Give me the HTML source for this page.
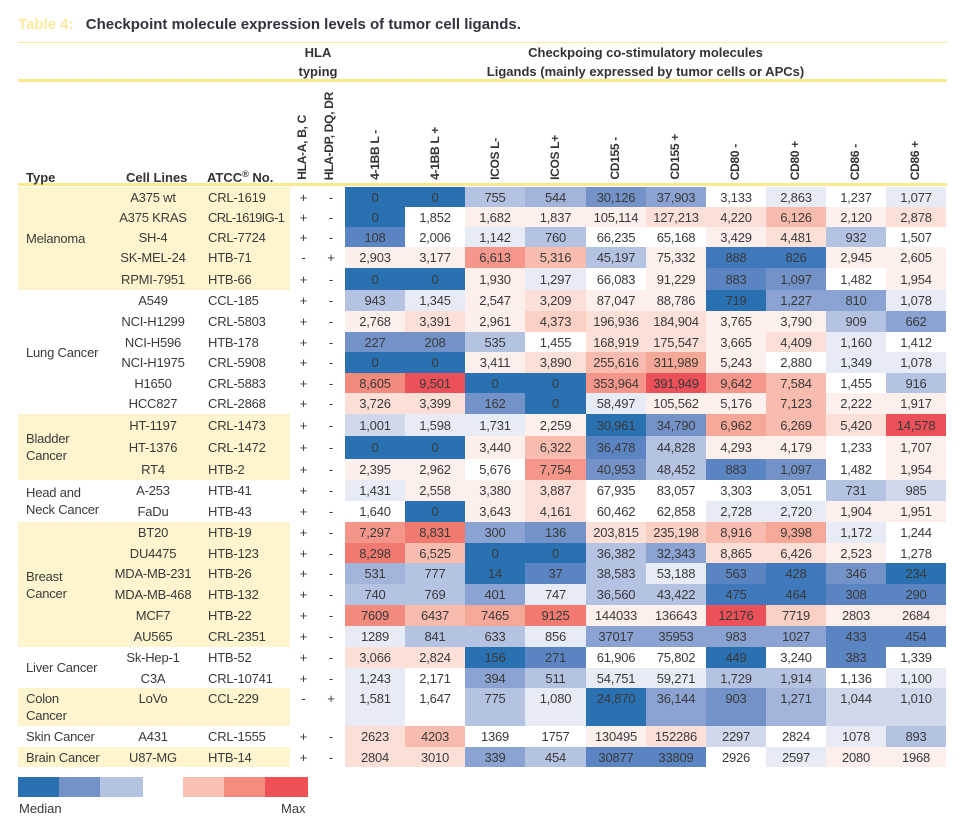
<!DOCTYPE html>
<html><head><meta charset="utf-8">
<style>
body{margin:0;width:969px;height:824px;background:#fff;position:relative;overflow:hidden;font-family:"Liberation Sans",sans-serif;color:#3a3a3a}
.abs{position:absolute}
.title{left:18px;top:16px;font-size:15px;font-weight:bold;color:#333340;white-space:nowrap}
.title span{color:#fde9a0;margin-right:8px}
.hline{left:18px;width:929px;background:#fbe89a}
.hb{font-weight:bold;font-size:13px;color:#333;white-space:nowrap}
.rot{position:absolute;bottom:644px;writing-mode:vertical-rl;transform:rotate(180deg);font-weight:bold;font-size:12px;letter-spacing:-0.3px;color:#333;white-space:nowrap;width:16px;text-align:left}
table{position:absolute;left:18px;top:187px;border-collapse:collapse;table-layout:fixed;font-size:13px}
td{padding:0;text-align:center;white-space:nowrap;overflow:hidden;letter-spacing:-0.2px}
td.y{background:#fef5cf}
td.t{text-align:left;padding-left:8px;line-height:17px}
td.at{text-align:left;padding-left:12px}
tr.top td{vertical-align:top;padding-top:3px}
tr.top td.t{padding-top:2px}
.a{background:#2a71b2}.c{background:#3f78bb}.d{background:#5a84c2}.e{background:#7393c8}.f{background:#8aa3d2}
.g{background:#a3b4db}.h{background:#b5c3e2}.i{background:#d0d8ec}.j{background:#e7ebf5}
.k{background:#fdefeb}.l{background:#fce0d8}.m{background:#fad0c4}.n{background:#f8bcae}.o{background:#f6a898}
.p{background:#f4968a}.q{background:#f28a7e}.s{background:#f07a70}.t2{background:#ec5058}
</style></head><body>
<div class="abs title"><span>Table 4:</span> Checkpoint molecule expression levels of tumor cell ligands.</div>
<div class="abs hline" style="top:42px;height:1px"></div>
<div class="abs hline" style="top:79px;height:3px;background:#fce98f"></div>
<div class="abs hline" style="top:183px;height:3px;background:#fce98f"></div>
<div class="abs hb" style="left:290px;width:56px;text-align:center;top:43px;line-height:19px">HLA<br>typing</div>
<div class="abs hb" style="left:345px;width:601px;text-align:center;top:43px;line-height:19px">Checkpoing co-stimulatory molecules<br>Ligands (mainly expressed by tumor cells or APCs)</div>
<div class="abs hb" style="left:26px;top:170px">Type</div>
<div class="abs hb" style="left:126px;top:170px">Cell Lines</div>
<div class="abs hb" style="left:207px;top:170px">ATCC<span style="font-size:9px;position:relative;top:-5px">®</span> No.</div>
<div class="rot" style="left:295px">HLA-A, B, C</div>
<div class="rot" style="left:322px">HLA-DP, DQ, DR</div>
<div class="rot" style="left:368px">4-1BB L -</div>
<div class="rot" style="left:428px">4-1BB L +</div>
<div class="rot" style="left:488px">ICOS L-</div>
<div class="rot" style="left:548px">ICOS L+</div>
<div class="rot" style="left:608px">CD155 -</div>
<div class="rot" style="left:668px">CD155 +</div>
<div class="rot" style="left:728px">CD80 -</div>
<div class="rot" style="left:788px">CD80 +</div>
<div class="rot" style="left:848px">CD86 -</div>
<div class="rot" style="left:908px">CD86 +</div>

<table>
<colgroup><col style="width:92px"><col style="width:86px"><col style="width:94px"><col style="width:27px"><col style="width:28px"><col style="width:60px"><col style="width:60px"><col style="width:60px"><col style="width:61px"><col style="width:60px"><col style="width:60px"><col style="width:60px"><col style="width:60px"><col style="width:60px"><col style="width:60px"></colgroup>
<tr style="height:20px"><td rowspan="5" class="y t">Melanoma</td><td class="y">A375 wt</td><td class="y at">CRL-1619</td><td>+</td><td>-</td><td class="a">0</td><td class="a">0</td><td class="h">755</td><td class="g">544</td><td class="e">30,126</td><td class="f">37,903</td><td>3,133</td><td class="j">2,863</td><td>1,237</td><td class="j">1,077</td></tr>
<tr style="height:20px"><td class="y">A375 KRAS</td><td class="y at" style="letter-spacing:-0.7px">CRL-1619IG-1</td><td>+</td><td>-</td><td class="a">0</td><td>1,852</td><td class="k">1,682</td><td class="k">1,837</td><td class="k">105,114</td><td class="l">127,213</td><td class="l">4,220</td><td class="n">6,126</td><td class="k">2,120</td><td class="l">2,878</td></tr>
<tr style="height:20px"><td class="y">SH-4</td><td class="y at">CRL-7724</td><td>+</td><td>-</td><td class="d">108</td><td>2,006</td><td class="j">1,142</td><td class="h">760</td><td>66,235</td><td>65,168</td><td class="k">3,429</td><td class="l">4,481</td><td class="h">932</td><td>1,507</td></tr>
<tr style="height:21px"><td class="y">SK-MEL-24</td><td class="y at">HTB-71</td><td>-</td><td>+</td><td class="k">2,903</td><td class="k">3,177</td><td class="p">6,613</td><td class="n">5,316</td><td class="h">45,197</td><td class="k">75,332</td><td class="c">888</td><td class="c">826</td><td class="k">2,945</td><td class="k">2,605</td></tr>
<tr style="height:22px"><td class="y">RPMI-7951</td><td class="y at">HTB-66</td><td>+</td><td>-</td><td class="a">0</td><td class="a">0</td><td class="k">1,930</td><td class="j">1,297</td><td>66,083</td><td class="k">91,229</td><td class="d">883</td><td class="e">1,097</td><td>1,482</td><td class="k">1,954</td></tr>
<tr style="height:21px"><td rowspan="6" class="t">Lung Cancer</td><td>A549</td><td class="at">CCL-185</td><td>+</td><td>-</td><td class="h">943</td><td class="j">1,345</td><td class="k">2,547</td><td class="l">3,209</td><td class="k">87,047</td><td class="k">88,786</td><td class="a">719</td><td class="f">1,227</td><td class="f">810</td><td class="j">1,078</td></tr>
<tr style="height:21px"><td>NCI-H1299</td><td class="at">CRL-5803</td><td>+</td><td>-</td><td class="k">2,768</td><td class="l">3,391</td><td class="k">2,961</td><td class="m">4,373</td><td class="l">196,936</td><td class="l">184,904</td><td class="k">3,765</td><td class="k">3,790</td><td class="h">909</td><td class="f">662</td></tr>
<tr style="height:20px"><td>NCI-H596</td><td class="at">HTB-178</td><td>+</td><td>-</td><td class="e">227</td><td class="e">208</td><td class="h">535</td><td>1,455</td><td class="l">168,919</td><td class="l">175,547</td><td class="k">3,665</td><td class="l">4,409</td><td class="j">1,160</td><td>1,412</td></tr>
<tr style="height:21px"><td>NCI-H1975</td><td class="at">CRL-5908</td><td>+</td><td>-</td><td class="a">0</td><td class="a">0</td><td class="k">3,411</td><td class="l">3,890</td><td class="n">255,616</td><td class="o">311,989</td><td class="k">5,243</td><td>2,880</td><td class="j">1,349</td><td class="j">1,078</td></tr>
<tr style="height:20px"><td>H1650</td><td class="at">CRL-5883</td><td>+</td><td>-</td><td class="q">8,605</td><td class="t2">9,501</td><td class="a">0</td><td class="a">0</td><td class="p">353,964</td><td class="t2">391,949</td><td class="p">9,642</td><td class="n">7,584</td><td>1,455</td><td class="h">916</td></tr>
<tr style="height:21px"><td>HCC827</td><td class="at">CRL-2868</td><td>+</td><td>-</td><td class="l">3,726</td><td class="l">3,399</td><td class="e">162</td><td class="a">0</td><td class="j">58,497</td><td class="k">105,562</td><td class="k">5,176</td><td class="n">7,123</td><td class="k">2,222</td><td class="k">1,917</td></tr>
<tr style="height:22px"><td rowspan="3" class="y t">Bladder<br>Cancer</td><td class="y">HT-1197</td><td class="y at">CRL-1473</td><td>+</td><td>-</td><td class="i">1,001</td><td class="j">1,598</td><td class="j">1,731</td><td class="k">2,259</td><td class="a">30,961</td><td class="e">34,790</td><td class="o">6,962</td><td class="n">6,269</td><td class="l">5,420</td><td class="t2">14,578</td></tr>
<tr style="height:23px"><td class="y">HT-1376</td><td class="y at">CRL-1472</td><td>+</td><td>-</td><td class="a">0</td><td class="a">0</td><td class="k">3,440</td><td class="n">6,322</td><td class="d">36,478</td><td class="h">44,828</td><td class="k">4,293</td><td class="k">4,179</td><td>1,233</td><td class="k">1,707</td></tr>
<tr style="height:21px"><td class="y">RT4</td><td class="y at">HTB-2</td><td>+</td><td>-</td><td class="k">2,395</td><td class="k">2,962</td><td>5,676</td><td class="p">7,754</td><td class="e">40,953</td><td class="h">48,452</td><td class="d">883</td><td class="e">1,097</td><td>1,482</td><td class="k">1,954</td></tr>
<tr style="height:21px"><td rowspan="2" class="t">Head and<br>Neck Cancer</td><td>A-253</td><td class="at">HTB-41</td><td>+</td><td>-</td><td class="j">1,431</td><td class="k">2,558</td><td class="k">3,380</td><td class="l">3,887</td><td>67,935</td><td>83,057</td><td>3,303</td><td>3,051</td><td class="h">731</td><td class="i">985</td></tr>
<tr style="height:21px"><td>FaDu</td><td class="at">HTB-43</td><td>+</td><td>-</td><td>1,640</td><td class="a">0</td><td class="k">3,643</td><td class="l">4,161</td><td>60,462</td><td>62,858</td><td class="j">2,728</td><td class="j">2,720</td><td class="k">1,904</td><td class="k">1,951</td></tr>
<tr style="height:21px"><td rowspan="6" class="y t">Breast<br>Cancer</td><td class="y">BT20</td><td class="y at">HTB-19</td><td>+</td><td>-</td><td class="p">7,297</td><td class="s">8,831</td><td class="f">300</td><td class="e">136</td><td class="l">203,815</td><td class="m">235,198</td><td class="n">8,916</td><td class="o">9,398</td><td class="j">1,172</td><td>1,244</td></tr>
<tr style="height:20px"><td class="y">DU4475</td><td class="y at">HTB-123</td><td>+</td><td>-</td><td class="s">8,298</td><td class="n">6,525</td><td class="a">0</td><td class="a">0</td><td class="h">36,382</td><td class="f">32,343</td><td class="l">8,865</td><td class="l">6,426</td><td class="k">2,523</td><td>1,278</td></tr>
<tr style="height:21px"><td class="y">MDA-MB-231</td><td class="y at">HTB-26</td><td>+</td><td>-</td><td class="g">531</td><td class="h">777</td><td class="a">14</td><td class="d">37</td><td class="h">38,583</td><td class="j">53,188</td><td class="d">563</td><td class="c">428</td><td class="e">346</td><td class="a">234</td></tr>
<tr style="height:21px"><td class="y">MDA-MB-468</td><td class="y at">HTB-132</td><td>+</td><td>-</td><td class="h">740</td><td class="h">769</td><td class="f">401</td><td class="j">747</td><td class="h">36,560</td><td class="h">43,422</td><td class="c">475</td><td class="c">464</td><td class="d">308</td><td class="d">290</td></tr>
<tr style="height:21px"><td class="y">MCF7</td><td class="y at">HTB-22</td><td>+</td><td>-</td><td class="q">7609</td><td class="n">6437</td><td class="o">7465</td><td class="s">9125</td><td class="k">144033</td><td class="k">136643</td><td class="t2">12176</td><td class="m">7719</td><td class="k">2803</td><td class="k">2684</td></tr>
<tr style="height:21px"><td class="y">AU565</td><td class="y at">CRL-2351</td><td>+</td><td>-</td><td class="j">1289</td><td class="h">841</td><td class="h">633</td><td class="j">856</td><td class="f">37017</td><td class="f">35953</td><td class="f">983</td><td class="f">1027</td><td class="d">433</td><td class="d">454</td></tr>
<tr style="height:21px"><td rowspan="2" class="t">Liver Cancer</td><td>Sk-Hep-1</td><td class="at">HTB-52</td><td>+</td><td>-</td><td class="l">3,066</td><td class="l">2,824</td><td class="a">156</td><td class="d">271</td><td>61,906</td><td>75,802</td><td class="a">449</td><td>3,240</td><td class="d">383</td><td>1,339</td></tr>
<tr style="height:20px"><td>C3A</td><td class="at">CRL-10741</td><td>+</td><td>-</td><td class="j">1,243</td><td>2,171</td><td class="f">394</td><td class="h">511</td><td class="j">54,751</td><td class="j">59,271</td><td class="h">1,729</td><td class="h">1,914</td><td>1,136</td><td class="j">1,100</td></tr>
<tr class="top" style="height:38px"><td class="y t">Colon<br>Cancer</td><td class="y">LoVo</td><td class="y at">CCL-229</td><td>-</td><td>+</td><td class="j">1,581</td><td>1,647</td><td class="h">775</td><td class="j">1,080</td><td class="a">24,870</td><td class="f">36,144</td><td class="e">903</td><td class="g">1,271</td><td class="i">1,044</td><td class="i">1,010</td></tr>
<tr style="height:21px"><td class="t">Skin Cancer</td><td>A431</td><td class="at">CRL-1555</td><td>+</td><td>-</td><td class="l">2623</td><td class="n">4203</td><td>1369</td><td>1757</td><td class="k">130495</td><td class="l">152286</td><td class="i">2297</td><td>2824</td><td class="j">1078</td><td class="h">893</td></tr>
<tr style="height:20px"><td class="y t">Brain Cancer</td><td class="y">U87-MG</td><td class="y at">HTB-14</td><td>+</td><td>-</td><td class="l">2804</td><td class="l">3010</td><td class="f">339</td><td class="h">454</td><td class="d">30877</td><td class="d">33809</td><td>2926</td><td class="j">2597</td><td class="k">2080</td><td class="k">1968</td></tr>
</table>

<div class="abs" style="left:18px;top:777px;width:41px;height:20px;background:#2a71b2"></div>
<div class="abs" style="left:59px;top:777px;width:41px;height:20px;background:#7393c8"></div>
<div class="abs" style="left:100px;top:777px;width:43px;height:20px;background:#b5c3e2"></div>
<div class="abs" style="left:183px;top:777px;width:41px;height:20px;background:#f9c0b3"></div>
<div class="abs" style="left:224px;top:777px;width:41px;height:20px;background:#f48c7e"></div>
<div class="abs" style="left:265px;top:777px;width:43px;height:20px;background:#ef5055"></div>
<div class="abs" style="left:19px;top:801px;font-size:13px">Median</div>
<div class="abs" style="left:281px;top:801px;font-size:13px">Max</div>
</body></html>
